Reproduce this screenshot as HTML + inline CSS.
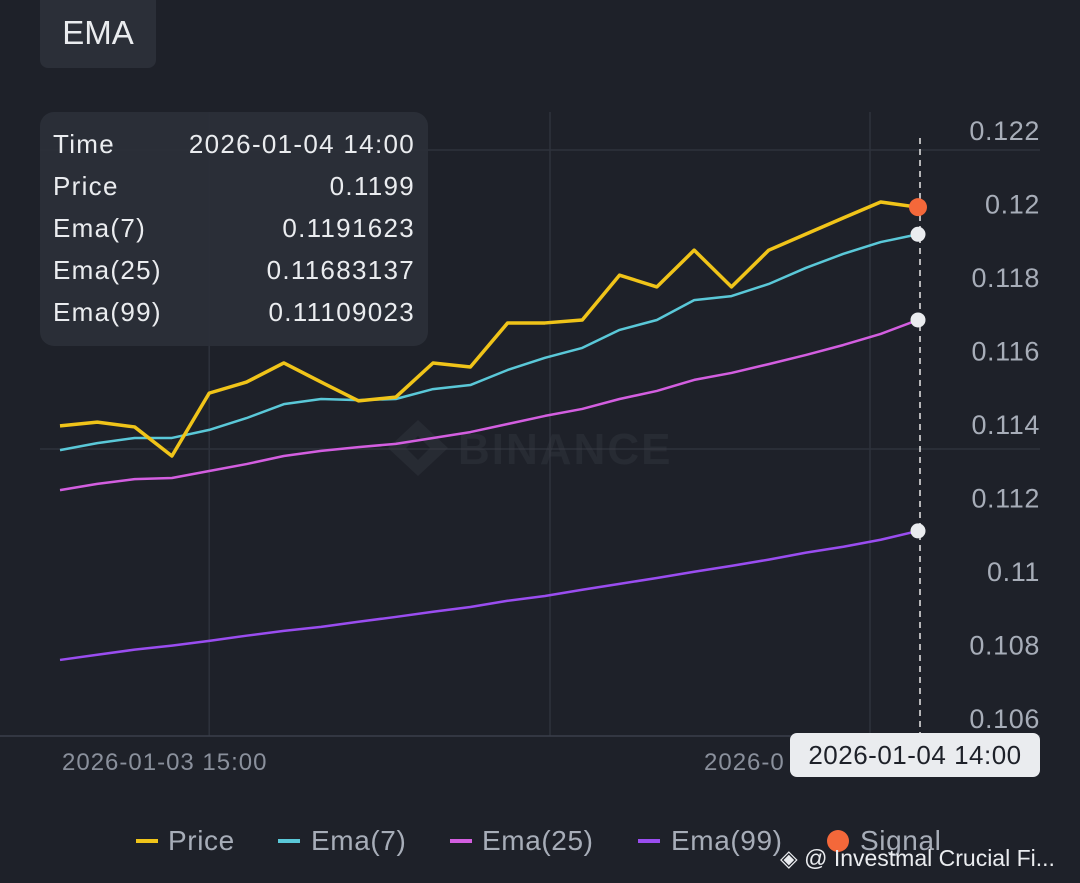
<!DOCTYPE html>
<html><head><meta charset="utf-8"><style>
body{margin:0;background:#1e2129;font-family:"Liberation Sans",sans-serif;}
svg{display:block}
</style></head><body>
<svg width="1080" height="883" id="chart">
<rect width="1080" height="883" fill="#1e2129"/>
<rect x="40" y="-10" width="116" height="78" rx="8" fill="#2b2f38"/>
<text x="98" y="44" fill="#eaecef" font-size="33" text-anchor="middle">EMA</text>
<g id="grid"></g>
<g opacity="0.35">
<path d="M418 420 l30 28 -30 28 -30 -28z M418 436 l12 12 -12 12 -12 -12z" fill="#3a3e47" fill-rule="evenodd"/>
<text x="458" y="464" fill="#3a3e47" font-size="44" font-weight="bold" letter-spacing="2">BINANCE</text>
</g>
<line x1="0" y1="736" x2="1040" y2="736" stroke="#3a3f4a" stroke-width="1.5"/>
<g id="series"></g>
<line x1="920" y1="138" x2="920" y2="736" stroke="#e8e8e8" stroke-width="1.5" stroke-dasharray="6,5"/>
<g id="dots"></g>
<g id="yticks"></g>
<g id="xticks"></g>
<rect x="40" y="112" width="388" height="234" rx="14" fill="#2b2f38" opacity="0.95"/>
<g font-size="26" letter-spacing="1.3" fill="#eaecef">
<text x="53" y="153">Time</text><text x="415" y="153" text-anchor="end">2026-01-04 14:00</text>
<text x="53" y="195">Price</text><text x="415" y="195" text-anchor="end">0.1199</text>
<text x="53" y="237">Ema(7)</text><text x="415" y="237" text-anchor="end">0.1191623</text>
<text x="53" y="279">Ema(25)</text><text x="415" y="279" text-anchor="end">0.11683137</text>
<text x="53" y="321">Ema(99)</text><text x="415" y="321" text-anchor="end">0.11109023</text>
</g>
<rect x="790" y="733" width="250" height="44" rx="7" fill="#eaecef"/>
<text x="915" y="764" fill="#1e2129" font-size="26" letter-spacing="0.5" text-anchor="middle">2026-01-04 14:00</text>
<g font-size="28" letter-spacing="0.6" fill="#a7adb8">
<rect x="136" y="839" width="22" height="4" fill="#f0c419"/><text x="168" y="850">Price</text>
<rect x="278" y="839" width="22" height="4" fill="#5ac8d8"/><text x="311" y="850">Ema(7)</text>
<rect x="450" y="839" width="22" height="4" fill="#d35ee0"/><text x="482" y="850">Ema(25)</text>
<rect x="638" y="839" width="22" height="4" fill="#9a4df0"/><text x="671" y="850">Ema(99)</text>
<circle cx="838" cy="841" r="11" fill="#f4683a"/><text x="860" y="850">Signal</text>
</g>
<text x="780" y="866" fill="#eaecef" font-size="23">◈ @ Investmal Crucial Fi...</text>
</svg>
<script>
const yTicks=[0.122,0.12,0.118,0.116,0.114,0.112,0.11,0.108,0.106];
const price=[.11395,.11405,.11392,.11313,.11484,.11514,.11566,.11514,.11463,.11473,.11566,.11555,.11675,.11675,.11683,.11805,.11773,.11873,.11773,.11873,.11917,.11961,.12004,.1199];
const ema7=[.11329,.11348,.11362,.11362,.11384,.11416,.11454,.11468,.11465,.11468,.11495,.11506,.11547,.1158,.11607,.11656,.11683,.11737,.11748,.11781,.11825,.11863,.11895,.1191623];
const ema25=[.1122,.11237,.1125,.11253,.11272,.11291,.11313,.11327,.11337,.11346,.11362,.11378,.114,.11422,.11441,.11468,.1149,.1152,.11539,.11563,.11588,.11615,.11645,.11683137];
const ema99=[.10758,.10772,.10786,.10797,.1081,.10824,.10837,.10848,.10862,.10875,.10889,.10902,.10919,.10932,.10949,.10965,.10981,.10998,.11014,.11031,.1105,.11066,.11085,.11109023];
const xLabels=["2026-01-03 15:00","2026-0"];
const NS="http://www.w3.org/2000/svg";
const y=v=>130+(0.122-v)/0.002*73.5;
const x=i=>60+i*(858/23);
function mk(t,a,p){const e=document.createElementNS(NS,t);for(const k in a)e.setAttribute(k,a[k]);p.appendChild(e);return e;}
const grid=document.getElementById('grid');
[150,449].forEach(g=>{const l=mk('line',{x1:40,x2:1040,y1:g,y2:g,stroke:'#2e323c','stroke-width':1.5},grid);

});
[x(4),550,870].forEach(g=>{const l=mk('line',{x1:g,x2:g,y1:112,y2:736,stroke:'#2e323c','stroke-width':1.5},grid);

});
const yt=document.getElementById('yticks');
yTicks.forEach(v=>{const t=mk('text',{x:1040,y:y(v)+10,fill:'#a7adb8','font-size':27,'letter-spacing':0.6,'text-anchor':'end'},yt);t.textContent=String(v);

});
const xt=document.getElementById('xticks');
const xPos=[62,704];
xLabels.forEach((s,i)=>{const t=mk('text',{x:xPos[i],y:770,fill:'#8a909c','font-size':24,'letter-spacing':1,'text-anchor':'start'},xt);t.textContent=s;

});
const sg=document.getElementById('series');
[[ema99,'#9a4df0',2.5,'ema99-line'],[ema25,'#d35ee0',2.5,'ema25-line'],[ema7,'#5ac8d8',2.5,'ema7-line'],[price,'#f0c419',3.5,'price-line']].forEach(([d,c,w,n])=>{
const p=mk('polyline',{points:d.map((v,i)=>x(i)+','+y(v)).join(' '),fill:'none',stroke:c,'stroke-width':w,'stroke-linejoin':'round'},sg);

});
const dg=document.getElementById('dots');const L=23;
[[ema99,'#eaecef'],[ema25,'#eaecef'],[ema7,'#eaecef'],[price,'#f4683a']].forEach(([d,c])=>{
const e=mk('circle',{cx:x(L),cy:y(d[L]),r:c=='#f4683a'?9:7.5,fill:c},dg);

});
</script>
</body></html>
